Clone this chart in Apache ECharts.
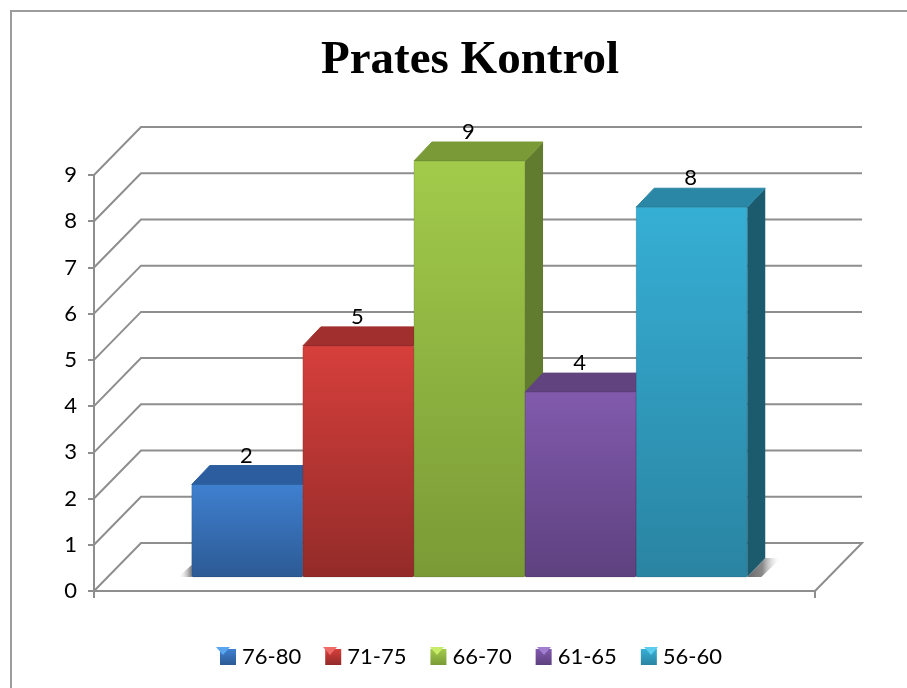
<!DOCTYPE html>
<html>
<head>
<meta charset="utf-8">
<style>html,body{margin:0;padding:0;background:#fff}#c{width:907px;height:688px}</style>
<script src="https://cdn.jsdelivr.net/npm/echarts@6/dist/echarts.min.js"></script>
</head>
<body>
<div id="c"></div>
<script>
var titleText = 'Prates Kontrol';
var categories = [''];
var seriesNames = ['76-80', '71-75', '66-70', '61-65', '56-60'];
var seriesValues = [2, 5, 9, 4, 8];
var yTicks = [0, 1, 2, 3, 4, 5, 6, 7, 8, 9];

var palette = [
  {hi:'#3f80d0', lo:'#2c5a94', top:'#2c5e9f', side:'#214a7a', tri:'#5aa6ee'},
  {hi:'#d63f3c', lo:'#932b29', top:'#a02f2d', side:'#75211f', tri:'#ee6a66'},
  {hi:'#a2cb4b', lo:'#7a9a36', top:'#7a9a38', side:'#617c2e', tri:'#c8ec6a'},
  {hi:'#815aad', lo:'#5e417f', top:'#60437f', side:'#49325f', tri:'#a27ed0'},
  {hi:'#36afd5', lo:'#2a84a2', top:'#2a87a6', side:'#1c5b6e', tri:'#5ccdee'}
];
var GRID = '#8e8e8e';
var wallDX = 47, wallDY = 48;        // oblique projection of the back wall
var barFrac = 111.1 / 721, shiftX = 15, shiftY = 14, depthX = 18, depthY = 19;

function vGrad(a, b) {
  return {type:'linear', x:0, y:0, x2:0, y2:1, colorStops:[{offset:0,color:a},{offset:1,color:b}]};
}

function renderWall(params, api) {
  var t = api.value(1), p = api.coord([0, t]), band = api.size([1, 0])[0];
  var x0 = p[0] - band / 2, x1 = p[0] + band / 2, y = p[1];
  var pts = [[x0, y], [x0 + wallDX, y - wallDY], [x1 + wallDX, y - wallDY]];
  if (t === 0) pts.push([x1, y]);
  return {type:'polyline', shape:{points:pts}, silent:true,
          style:{stroke:GRID, lineWidth:2, fill:null, lineJoin:'miter'}};
}

function renderShadow(params, api) {
  var p = api.coord([0, 0]), band = api.size([1, 0])[0], w = band * barFrac;
  var base = p[1] - shiftY, L = p[0] + shiftX - 2.5 * w, R = p[0] + shiftX + 2.5 * w;
  return {type:'group', silent:true, children:[
    {type:'polygon', shape:{points:[[L, base - 12], [L, base], [L - 14, base]]},
     style:{fill:{type:'linear', x:1, y:0, x2:0, y2:0, colorStops:[{offset:0,color:'#777'},{offset:1,color:'rgba(255,255,255,0)'}]}}},
    {type:'polygon', shape:{points:[[R, base], [R + depthX, base - depthY], [R + depthX + 16, base - depthY], [R + 14, base]]},
     style:{fill:{type:'linear', x:0, y:0, x2:1, y2:0, colorStops:[{offset:0,color:'#6a6a6a'},{offset:0.45,color:'#8a8a8a'},{offset:1,color:'rgba(255,255,255,0)'}]}}}
  ]};
}

function renderBar(params, api) {
  var i = params.seriesIndex - 2, c = palette[i];
  var v = api.value(1), p0 = api.coord([0, 0]), p = api.coord([0, v]);
  var band = api.size([1, 0])[0], w = band * barFrac;
  var xL = p0[0] + shiftX + (i - 2.5) * w, xR = xL + w;
  var yB = p0[1] - shiftY, yT = p[1] - shiftY;
  return {type:'group', silent:true, children:[
    {type:'polygon', shape:{points:[[xR, yT], [xR + depthX, yT - depthY], [xR + depthX, yB - depthY], [xR, yB]]},
     style:{fill:vGrad(c.side, c.side)}},
    {type:'polygon', shape:{points:[[xL, yT], [xL + depthX, yT - depthY], [xR + depthX, yT - depthY], [xR, yT]]},
     style:{fill:c.top, stroke:c.top, lineWidth:1, lineJoin:'round'}},
    {type:'rect', shape:{x:xL, y:yT, width:w, height:yB - yT, r:1.5},
     style:{fill:vGrad(c.hi, c.lo), stroke:'rgba(0,0,0,0.12)', lineWidth:1}},
    {type:'text', x:(xL + xR) / 2 - 1, y:yT - 29,
     style:{text:String(v), font:'22px Lato', fill:'#000', textAlign:'center', textVerticalAlign:'middle'}}
  ]};
}

var legendX = [215, 322, 429, 536, 643], legendY = 646, iconS = 16;
var graphics = [{type:'polyline', silent:true, shape:{points:[[11, 688], [11, 11], [907, 11]]},
                 style:{stroke:'#9c9c9c', lineWidth:2, fill:null}}];

var series = [
  {type:'custom', name:'_wall', coordinateSystem:'cartesian2d', renderItem:renderWall, clip:false, z:1,
   encode:{x:0, y:1}, data:yTicks.map(function (t) { return [0, t]; })},
  {type:'custom', name:'_shadow', coordinateSystem:'cartesian2d', renderItem:renderShadow, clip:false, z:2,
   encode:{x:0, y:1}, data:[[0, 0]]}
].concat(seriesNames.map(function (n, i) {
  return {type:'custom', name:n, coordinateSystem:'cartesian2d', renderItem:renderBar, clip:false, z:3,
          encode:{x:0, y:1}, data:[[0, seriesValues[i]]],
          itemStyle:{color:palette[i].hi}};
}));

seriesNames.forEach(function (n, i) {
  var x = legendX[i], y = legendY, c = palette[i];
  graphics.push({type:'polygon', silent:true, z:100,
    shape:{points:[[x + 1, y + 1], [x + iconS - 1, y + 1], [x + iconS / 2, y + iconS / 2 + 1]]},
    style:{fill:c.tri}});
});

var chart = echarts.init(document.getElementById('c'), null, {renderer:'canvas'});
chart.setOption({
  animation:false,
  backgroundColor:'#fff',
  title:{text:titleText, left:465, top:32, textAlign:'center',
         textStyle:{fontFamily:'Liberation Serif', fontWeight:'bold', fontSize:47, color:'#000'}},
  grid:{left:94, right:92, top:175, bottom:97, containLabel:false},
  xAxis:{type:'category', data:categories, boundaryGap:true,
         axisLine:{lineStyle:{color:GRID, width:2}},
         axisTick:{show:true, length:7, lineStyle:{color:GRID, width:2}},
         axisLabel:{show:false}, splitLine:{show:false}},
  yAxis:{type:'value', min:0, max:9, interval:1,
         axisLine:{show:true, lineStyle:{color:GRID, width:2}},
         axisTick:{show:true, length:6, lineStyle:{color:GRID, width:2}},
         axisLabel:{fontFamily:'Lato', fontSize:22, color:'#000', margin:17},
         splitLine:{show:false}},
  legend:{left:215, top:641, itemWidth:iconS, itemHeight:iconS, itemGap:24, icon:'rect',
          textStyle:{fontFamily:'Lato', fontSize:22, color:'#000', padding:[0,0,0,1]},
          selectedMode:false,
          data:seriesNames.map(function (n, i) {
            return {name:n, itemStyle:{color:vGrad(palette[i].hi, palette[i].lo)}};
          })},
  graphic:graphics,
  series:series
});
</script>
</body>
</html>
